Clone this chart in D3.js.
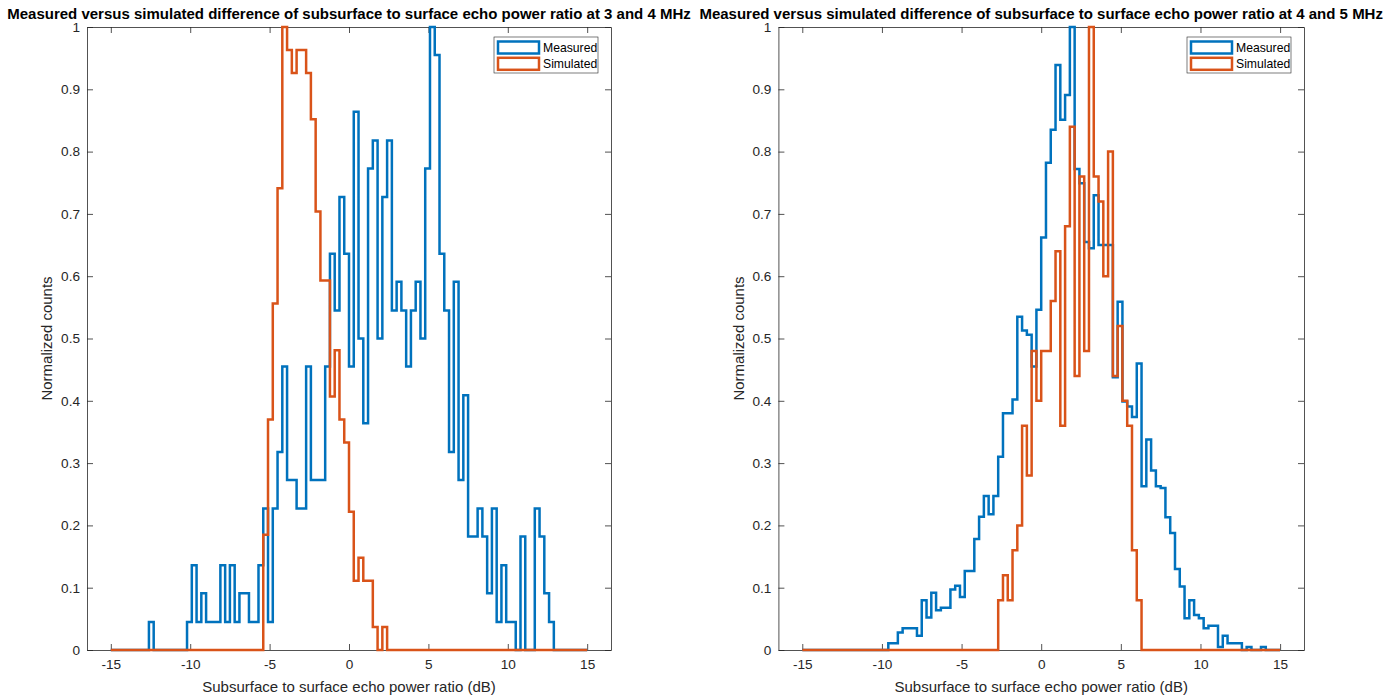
<!DOCTYPE html>
<html><head><meta charset="utf-8">
<script src="https://cdn.jsdelivr.net/npm/d3@7"></script>
<style>body{margin:0;background:#fff;overflow:hidden} text{font-family:"Liberation Sans",Arial,Helvetica,sans-serif}</style>
</head><body><svg id="c" width="1399" height="698"></svg>
<script>
// ---- data ----
const binStart = -15, binWidth = 0.3, binCount = 100;
const xTicks = [-15, -10, -5, 0, 5, 10, 15];
const yTicks = [0, 0.1, 0.2, 0.3, 0.4, 0.5, 0.6, 0.7, 0.8, 0.9, 1];
const titles = [
  "Measured versus simulated difference of subsurface to surface echo power ratio at 3 and 4 MHz",
  "Measured versus simulated difference of subsurface to surface echo power ratio at 4 and 5 MHz"
];
const xLabel = "Subsurface to surface echo power ratio (dB)";
const yLabel = "Normalized counts";
const seriesNames = ["Measured", "Simulated"];

const leftMeasured = [
  0,0,0,0,0,0,0,0,
  0.045,
  0,0,0,0,0,0,0,
  0.045,0.136,0.045,0.091,0.045,0.045,0.045,0.136,0.045,0.136,
  0.045,0.091,0.091,0.045,0.045,0.136,0.227,0.045,0.227,0.318,
  0.455,0.273,0.273,0.227,0.227,0.455,0.273,0.273,0.273,0.455,
  0.636,0.545,0.727,0.636,0.455,0.864,0.5,0.364,0.773,0.818,
  0.5,0.727,0.818,0.545,0.591,0.545,0.455,0.545,0.591,0.5,
  0.773,1,0.955,0.636,0.545,0.318,0.591,0.273,0.409,0.182,
  0.182,0.227,0.182,0.091,0.227,0.045,0.136,0.045,0.045,0,
  0.182,0,0,0.227,0.182,0.091,0.045,
  0,0,0,0,0,0,0
];
const leftSimulated = [
  0,0,0,0,0,0,0,0,0,0,0,0,0,0,0,0,0,0,0,0,0,0,0,0,0,0,0,0,0,0,0,0,
  0.185,0.370,0.556,0.741,1,0.963,0.926,0.963,0.963,0.926,
  0.852,0.704,0.593,0.593,0.407,0.481,0.370,0.333,0.222,0.111,
  0.148,0.111,0.111,0.037,0,0.037,
  0,0,0,0,0,0,0,0,0,0,0,0,0,0,0,0,0,0,0,0,0,0,0,0,0,0,0,0,0,0,0,0,0,0,0,0,0,0,0,0,0,0
];
const rightMeasured = [
  0,0,0,0,0,0,0,0,0,0,0,0,0,0,0,0,0,0,
  0.011,0.011,0.028,0.035,0.035,0.035,0.023,0.080,0.052,0.092,
  0.064,0.068,0.068,0.097,0.103,0.085,0.127,0.127,0.178,0.214,
  0.247,0.218,0.247,0.310,0.380,0.380,0.402,0.535,0.513,0.506,
  0.455,0.546,0.662,0.782,0.835,0.939,0.851,0.891,1,0.772,
  0.749,0.655,0.645,0.730,0.650,0.650,0.650,0.438,0.559,0.399,
  0.391,0.374,0.460,0.263,0.338,0.288,0.263,0.260,0.213,0.188,
  0.130,0.102,0.051,0.080,0.056,0.051,0.035,0.039,0.039,0.005,
  0.023,0.011,0.011,0.011,0,0.005,0,0,0.005,0,
  0,0
];
const rightSimulated = [
  0,0,0,0,0,0,0,0,0,0,0,0,0,0,0,0,0,0,0,0,0,0,0,0,0,0,0,0,0,0,0,0,0,0,0,0,0,0,0,0,0,
  0.08,0.12,0.08,0.16,0.2,0.36,0.28,0.48,0.4,0.48,
  0.48,0.56,0.64,0.36,0.68,0.84,0.44,0.76,0.48,1,
  0.76,0.72,0.6,0.8,0.44,0.52,0.4,0.36,0.16,0.08,
  0,0,0,0,0,0,0,0,0,0,0,0,0,0,0,0,0,0,0,0,0,0,0,0,0,0,0,0,0
];

// ---- drawing ----
const colors = ["#0072BD", "#D95319"];
const axisColor = "#262626";
const svg = d3.select("#c");
const yTop = 27, yBot = 650;
const panels = [
  {x0: 87, x1: 611, title: titles[0], series: [leftMeasured, leftSimulated]},
  {x0: 778.4, x1: 1304, title: titles[1], series: [rightMeasured, rightSimulated]}
];
const edges = d3.range(binCount + 1).map(i => binStart + i * binWidth);

function stairs(vals) {
  const pts = [[edges[0], 0]];
  vals.forEach((v, i) => { pts.push([edges[i], v]); pts.push([edges[i + 1], v]); });
  pts.push([edges[binCount], 0]);
  return pts;
}

panels.forEach(p => {
  const x = d3.scaleLinear().domain([-16.5, 16.5]).range([p.x0, p.x1]);
  const y = d3.scaleLinear().domain([0, 1]).range([yBot, yTop]);
  const g = svg.append("g");

  function style(ax) {
    ax.attr("font-family", null).attr("font-size", null);
    ax.select(".domain").attr("stroke", axisColor).attr("stroke-width", 0.8);
    ax.selectAll(".tick line").attr("stroke", axisColor).attr("stroke-width", 0.8);
    ax.selectAll(".tick text").attr("fill", axisColor).style("font-size", "13.6px");
  }
  const fmtY = d => String(+d.toFixed(1));
  style(g.append("g").attr("transform", `translate(0,${yBot})`)
    .call(d3.axisBottom(x).tickValues(xTicks).tickSize(-6).tickSizeOuter(0).tickPadding(9).tickFormat(d => String(d))));
  style(g.append("g").attr("transform", `translate(0,${yTop})`)
    .call(d3.axisTop(x).tickValues(xTicks).tickSize(-6).tickSizeOuter(0).tickFormat("")));
  style(g.append("g").attr("transform", `translate(${p.x0},0)`)
    .call(d3.axisLeft(y).tickValues(yTicks).tickSize(-6).tickSizeOuter(0).tickPadding(7).tickFormat(fmtY)));
  style(g.append("g").attr("transform", `translate(${p.x1},0)`)
    .call(d3.axisRight(y).tickValues(yTicks).tickSize(-6).tickSizeOuter(0).tickFormat("")));

  const line = d3.line().x(d => x(d[0])).y(d => y(d[1]));
  p.series.forEach((vals, i) => {
    g.append("path").attr("d", line(stairs(vals)))
      .attr("fill", "none").attr("stroke", colors[i]).attr("stroke-width", 2.5)
      .attr("stroke-linejoin", "miter");
  });

  const cx = (p.x0 + p.x1) / 2;
  g.append("text").attr("x", cx).attr("y", 19).attr("text-anchor", "middle")
    .style("font-size", "15px").style("font-weight", "bold").attr("fill", "#000").text(p.title);
  g.append("text").attr("x", cx).attr("y", 692).attr("text-anchor", "middle")
    .style("font-size", "15px").attr("fill", axisColor).text(xLabel);
  g.append("text").attr("transform", `translate(${p.x0 - 40},${(yTop + yBot) / 2}) rotate(-90)`)
    .attr("text-anchor", "middle").attr("dy", "0.35em")
    .style("font-size", "15px").attr("fill", axisColor).text(yLabel);

  const lg = g.append("g").attr("transform", `translate(${p.x1 - 117},37)`);
  lg.append("rect").attr("width", 104).attr("height", 36).attr("fill", "#fff")
    .attr("stroke", axisColor).attr("stroke-width", 0.6);
  seriesNames.forEach((n, i) => {
    lg.append("rect").attr("x", 4).attr("y", 4.5 + i * 16.3).attr("width", 41).attr("height", 12)
      .attr("fill", "#fff").attr("stroke", colors[i]).attr("stroke-width", 2.5);
    lg.append("text").attr("x", 49).attr("y", 15 + i * 16.3).style("font-size", "12.2px")
      .attr("fill", "#000").text(n);
  });
});
</script></body></html>
